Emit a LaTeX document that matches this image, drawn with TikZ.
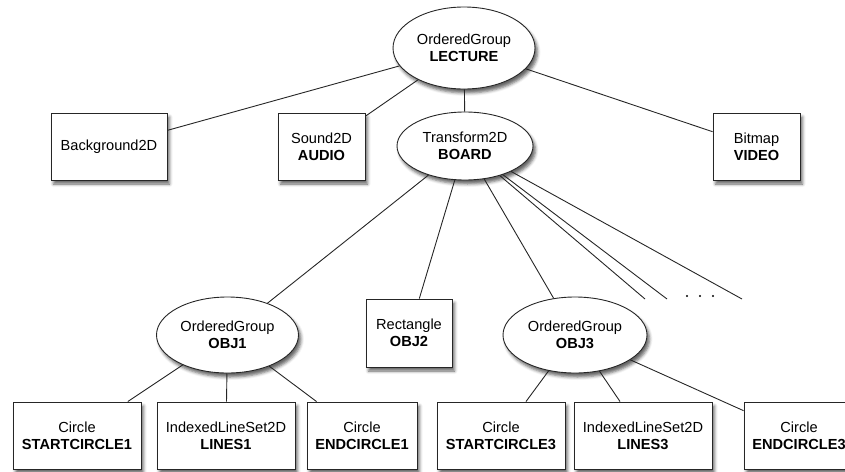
\documentclass[tikz,border=0pt]{standalone}
\usepackage{fontspec}
\setmainfont{Liberation Sans}
\usetikzlibrary{shapes.geometric,shadows.blur}
\tikzset{
  base/.style={draw=black!85, line width=0.9pt, fill=white, inner sep=0pt, align=center,
    font=\fontsize{14.6pt}{17pt}\selectfont,
    blur shadow={shadow xshift=2.5pt, shadow yshift=-4pt, shadow blur radius=3pt, shadow opacity=60}},
  ell/.style={base, ellipse},
  box/.style={base, rectangle},
  link/.style={draw=black!85, line width=0.9pt}
}
\begin{document}
\begin{tikzpicture}[x=1pt,y=-1pt]
\useasboundingbox (0,0) rectangle (845,471);
\clip (0,0) rectangle (845,471);
% coordinates of free ends
\coordinate (e1) at (645,299);
\coordinate (e2) at (667,299);
\coordinate (e3) at (742,299);
% top level
\node[ell, minimum width=142pt, minimum height=82pt] (lecture) at (464,48) {OrderedGroup\\\textbf{LECTURE}};
\node[box, minimum width=116pt, minimum height=67pt] (bg) at (109,146.5) {Background2D};
\node[box, minimum width=87pt, minimum height=67pt] (sound) at (321.5,146.5) {Sound2D\\\textbf{AUDIO}};
\node[ell, minimum width=136pt, minimum height=68pt] (board) at (465,146) {Transform2D\\\textbf{BOARD}};
\node[box, minimum width=87pt, minimum height=67pt] (video) at (756.5,146.5) {Bitmap\\\textbf{VIDEO}};
% second level
\node[ell, minimum width=142pt, minimum height=76pt] (obj1) at (227.5,335) {OrderedGroup\\\textbf{OBJ1}};
\node[box, minimum width=86pt, minimum height=68pt] (obj2) at (409,333) {Rectangle\\\textbf{OBJ2}};
\node[ell, minimum width=144pt, minimum height=76pt] (obj3) at (575,335) {OrderedGroup\\\textbf{OBJ3}};
% third level
\node[box, minimum width=128pt, minimum height=67pt] (sc1) at (77,435.5) {Circle\\\textbf{STARTCIRCLE1}};
\node[box, minimum width=138pt, minimum height=67pt] (ln1) at (226,435.5) {IndexedLineSet2D\\\textbf{LINES1}};
\node[box, minimum width=110pt, minimum height=67pt] (ec1) at (362,435.5) {Circle\\\textbf{ENDCIRCLE1}};
\node[box, minimum width=128pt, minimum height=67pt] (sc3) at (501,435.5) {Circle\\\textbf{STARTCIRCLE3}};
\node[box, minimum width=138pt, minimum height=67pt] (ln3) at (643,435.5) {IndexedLineSet2D\\\textbf{LINES3}};
\node[box, minimum width=110pt, minimum height=67pt] (ec3) at (799,435.5) {Circle\\\textbf{ENDCIRCLE3}};
% connectors
\draw[link] (lecture) -- (bg);
\draw[link] (lecture) -- (sound);
\draw[link] (lecture) -- (board);
\draw[link] (lecture) -- (video);
\draw[link] (board) -- (obj1);
\draw[link] (board) -- (obj2);
\draw[link] (board) -- (obj3);
\draw[link] (board) -- (e1);
\draw[link] (board) -- (e2);
\draw[link] (board) -- (e3);
\draw[link] (obj1) -- (sc1);
\draw[link] (obj1) -- (ln1);
\draw[link] (obj1) -- (ec1);
\draw[link] (obj3) -- (sc3);
\draw[link] (obj3) -- (ln3);
\draw[link] (obj3) -- (ec3);
% dots
\node[circle, fill=black, inner sep=0pt, minimum size=2.4pt] (d1) at (687,296) {};
\node[circle, fill=black, inner sep=0pt, minimum size=2.4pt] (d2) at (700,296) {};
\node[circle, fill=black, inner sep=0pt, minimum size=2.4pt] (d3) at (713,296) {};
\end{tikzpicture}
\end{document}
